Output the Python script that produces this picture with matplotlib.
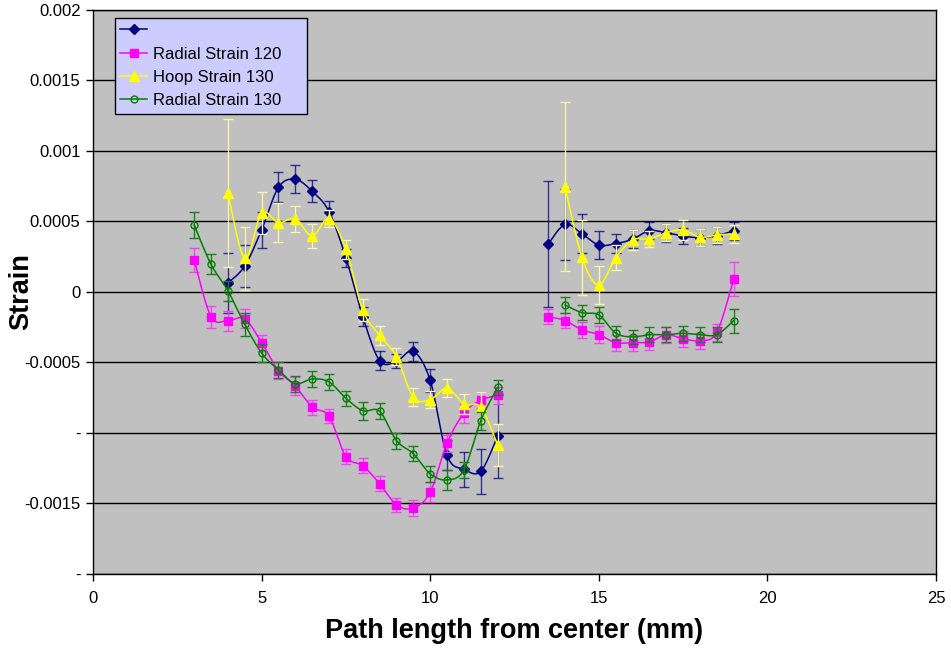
import numpy as np
import matplotlib
matplotlib.use('Agg')
from matplotlib import pyplot as plt
from matplotlib.lines import Line2D
from matplotlib.ticker import FixedLocator, FixedFormatter

plt.rcParams['font.family'] = ['Liberation Sans', 'DejaVu Sans']

# x positions (mm), two measurement runs with a gap between them
x_left = [3.0, 3.5, 4.0, 4.5, 5.0, 5.5, 6.0, 6.5, 7.0, 7.5, 8.0, 8.5, 9.0, 9.5,
          10.0, 10.5, 11.0, 11.5, 12.0]
x_right = [13.5, 14.0, 14.5, 15.0, 15.5, 16.0, 16.5, 17.0, 17.5, 18.0, 18.5, 19.0]

# series 1 (no legend text)
s1_left = [None, None, 0.000064, 0.000184, 0.00044, 0.000742, 0.000799, 0.000714, 0.00057,
           0.000243, -0.000175, -0.000487, -0.000492, -0.000421, -0.000627, -0.001158,
           -0.001257, -0.001272, -0.001021]
s1_left_err = [0, 0, 0.000215, 0.00015, 0.000126, 0.000106, 0.000099, 0.000077, 0.000078,
               0.000063, 0.000065, 0.000069, 0.00005, 0.000065, 0.000079, 0.000106,
               0.000124, 0.000158, 0.0003]
s1_right = [0.00034, 0.00048, 0.000413, 0.000333, 0.000343, 0.000374, 0.000435, 0.00042,
            0.000397, 0.000385, 0.0004, 0.000433]
s1_right_err = [0.00045, 0.00025, 0.000137, 0.000098, 0.000068, 0.000063, 0.000062,
                0.000063, 0.000056, 0.000062, 0.00006, 0.000065]

# Radial Strain 120
s2_left = [0.000227, -0.000175, -0.000203, -0.000191, -0.000359, -0.000558, -0.000667,
           -0.000816, -0.000882, -0.001168, -0.001232, -0.00136, -0.00151, -0.001532,
           -0.00142, -0.001073, -0.00086, -0.000768, -0.000733]
s2_left_err = [0.000086, 0.000079, 0.000071, 0.000067, 0.000057, 0.00006, 0.000064,
               0.000053, 0.000049, 0.000055, 0.000053, 0.000053, 0.00005, 0.000057,
               0.00007, 0.000059, 0.000069, 0.000057, 0.00006]
s2_right = [-0.000175, -0.000203, -0.000269, -0.000302, -0.000359, -0.000359, -0.000355,
            -0.000303, -0.000331, -0.000345, -0.000286, 0.00009]
s2_right_err = [0.000053, 0.000053, 0.000057, 0.000059, 0.000057, 0.000057, 0.000057,
                0.000057, 0.000057, 0.000057, 0.00006, 0.00012]

# Hoop Strain 130
s3_left = [None, None, 0.000704, 0.000239, 0.000558, 0.000492, 0.00052, 0.000397, 0.00052,
           0.000303, -0.000128, -0.000307, -0.000459, -0.000747, -0.000763, -0.000683,
           -0.000794, -0.000818, -0.001085]
s3_left_err = [0, 0, 0.000525, 0.000225, 0.00015, 0.000138, 0.000092, 0.000083, 0.00006,
               0.000069, 0.000076, 0.000069, 0.00006, 0.000065, 0.00006, 0.000064,
               0.00007, 0.000106, 0.00015]
s3_right = [None, 0.000747, 0.000246, 0.00005, 0.000243, 0.000369, 0.000376, 0.00042,
            0.00044, 0.000388, 0.000404, 0.000411]
s3_right_err = [0, 0.000598, 0.000266, 0.000135, 0.000089, 0.00007, 0.00006, 0.00006,
                0.000068, 0.00006, 0.00006, 0.000063]

# Radial Strain 130
s4_left = [0.000475, 0.000196, 0.000009, -0.000229, -0.000433, -0.000553, -0.00065,
           -0.000617, -0.000638, -0.000754, -0.000842, -0.000846, -0.001054, -0.001147,
           -0.00129, -0.001333, -0.001262, -0.000913, -0.000676]
s4_left_err = [0.000089, 0.000071, 0.00007, 0.000083, 0.000065, 0.000057, 0.000057,
               0.000059, 0.000059, 0.000053, 0.000063, 0.000057, 0.000057, 0.000055,
               0.000059, 0.00007, 0.000059, 0.000065, 0.000053]
s4_right = [None, -0.000092, -0.000147, -0.000163, -0.000291, -0.000319, -0.000303,
            -0.000303, -0.000293, -0.000303, -0.000303, -0.000203]
s4_right_err = [0, 0.000057, 0.000052, 0.000057, 0.00005, 0.000052, 0.000055, 0.000055,
                0.000052, 0.000055, 0.000055, 0.000085]

labels = ['', 'Radial Strain 120', 'Hoop Strain 130', 'Radial Strain 130']

y_ticks = [-0.002, -0.0015, -0.001, -0.0005, 0, 0.0005, 0.001, 0.0015, 0.002]
y_tick_labels = ['-', '-0.0015', '-', '-0.0005', '0', '0.0005', '0.001', '0.0015', '0.002']


def smooth(xs, ys, n=16):
    # Excel-like smoothed line (Catmull-Rom style bezier through the points)
    pts = np.column_stack([xs, ys])
    out = [pts[0]]
    t = np.linspace(0, 1, n)[1:, None]
    for i in range(len(pts) - 1):
        p0 = pts[i - 1] if i > 0 else pts[i]
        p1 = pts[i]
        p2 = pts[i + 1]
        p3 = pts[i + 2] if i + 2 < len(pts) else pts[i + 1]
        c1 = p1 + (p2 - p0) / 6
        c2 = p2 - (p3 - p1) / 6
        seg = (1 - t) ** 3 * p1 + 3 * (1 - t) ** 2 * t * c1 + 3 * (1 - t) * t ** 2 * c2 + t ** 3 * p2
        out.extend(seg)
    out = np.array(out)
    return out[:, 0], out[:, 1]


fig = plt.figure(figsize=(9.51, 6.49), dpi=100)
ax = fig.add_axes([0.0978, 0.1156, 0.9842 - 0.0978, 0.9846 - 0.1156])
ax.set_facecolor('#C0C0C0')

series = [
    (s1_left, s1_left_err, s1_right, s1_right_err,
     dict(color='#000080', marker='D', ms=5, mfc='#000080', mec='#000080'), '#000080', 0.75),
    (s2_left, s2_left_err, s2_right, s2_right_err,
     dict(color='#FF00FF', marker='s', ms=5.5, mfc='#FF00FF', mec='#FF00FF'), '#FF33FF', 0.9),
    (s3_left, s3_left_err, s3_right, s3_right_err,
     dict(color='#FFFF00', marker='^', ms=6.5, mfc='#FFFF00', mec='#FFFF00'), '#F7F7A8', 1.0),
    (s4_left, s4_left_err, s4_right, s4_right_err,
     dict(color='#008000', marker='o', ms=5, mfc='none', mec='#008000', mew=1), '#1E7E1E', 1.0),
]

handles = []
z = 3
for yl, el, yr, er, style, ecol, ealpha in series:
    for xs, ys, es in [(x_left, yl, el), (x_right, yr, er)]:
        xs = np.array(xs)
        ys = np.array([np.nan if v is None else v for v in ys], dtype=float)
        es = np.array(es, dtype=float)
        m = ~np.isnan(ys)
        ax.errorbar(xs[m], ys[m], yerr=es[m], fmt='none', ecolor=ecol, alpha=ealpha,
                    elinewidth=1, capsize=3.5, capthick=1, zorder=z)
        sx, sy = smooth(xs[m], ys[m])
        ax.plot(sx, sy, color=style['color'], lw=1.1, zorder=z + 0.1)
        ax.plot(xs[m], ys[m], ls='none', zorder=z + 0.2,
                **{k: v for k, v in style.items() if k != 'color'})
    handles.append(Line2D([], [], lw=1.1, **style))
    z += 1

ax.set_xlim(0, 25)
ax.set_ylim(-0.002, 0.002)
ax.set_xticks([0, 5, 10, 15, 20, 25])
ax.yaxis.set_major_locator(FixedLocator(y_ticks))
ax.yaxis.set_major_formatter(FixedFormatter(y_tick_labels))
ax.tick_params(axis='both', direction='out', length=5, width=1, labelsize=12, colors='black')
ax.tick_params(axis='x', pad=7)
ax.tick_params(axis='y', pad=4)
ax.yaxis.grid(True, color='black', lw=1)
ax.set_axisbelow(True)
for sp in ax.spines.values():
    sp.set_color('black')
    sp.set_linewidth(1)

ax.set_xlabel('Path length from center (mm)', fontsize=19.5, fontweight='bold')
ax.set_ylabel('Strain', fontsize=19.5, fontweight='bold')
ax.xaxis.set_label_coords(0.5, -0.078)
ax.yaxis.set_label_coords(-0.0695, 0.5)

leg = ax.legend(handles, labels, loc='upper left', bbox_to_anchor=(0.026, 0.814, 0.228, 0.172),
                mode='expand', borderaxespad=0, fontsize=12, fancybox=False, framealpha=1,
                facecolor='#CCCCFF', edgecolor='black', handlelength=1.6,
                labelspacing=0.5, handletextpad=0.36, borderpad=0.32)
leg.get_frame().set_linewidth(1)
leg.set_zorder(10)

fig.savefig('out.png', dpi=100)
